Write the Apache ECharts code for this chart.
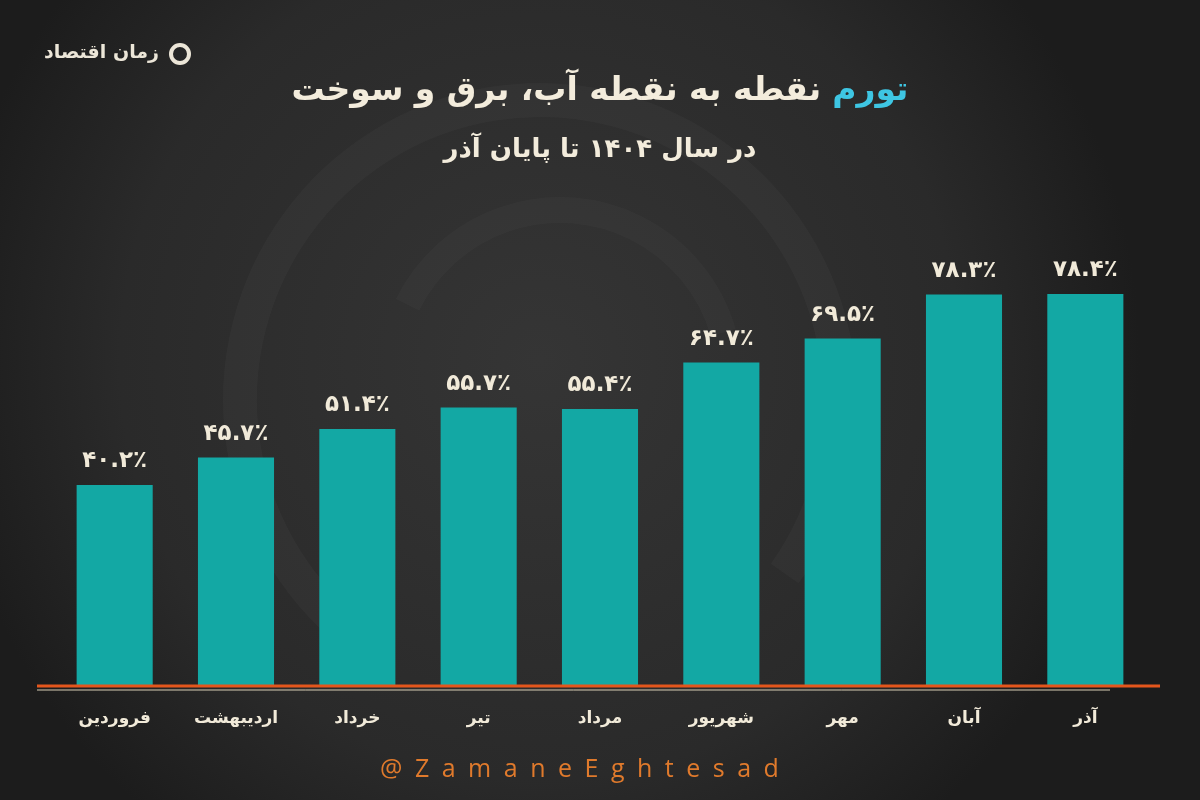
<!DOCTYPE html>
<html><head><meta charset="utf-8">
<script src="https://cdn.jsdelivr.net/npm/echarts@6/dist/echarts.min.js"></script>
<style>html,body{margin:0;padding:0;background:#2b2b2b}#c{width:1200px;height:800px}</style>
</head><body><div id="c"></div>
<script>
const categories = ['فروردین','اردیبهشت','خرداد','تیر','مرداد','شهریور','مهر','آبان','آذر'];
const values = [40.2, 45.7, 51.4, 55.7, 55.4, 64.7, 69.5, 78.3, 78.4];
const titleMain = 'نقطه به نقطه آب، برق و سوخت';
const titleAccent = 'تورم';
const subtitle = 'در سال ۱۴۰۴ تا پایان آذر';
const brand = 'زمان اقتصاد';
const footer = '@ZamaneEghtesad';

const faDigits = '۰۱۲۳۴۵۶۷۸۹';
function fa(v){ return v.toFixed(1).replace(/[0-9]/g, d => faDigits[+d]) + '٪'; }

const chart = echarts.init(document.getElementById('c'));
const FONT = '"DejaVu Sans", sans-serif';
chart.setOption({
  backgroundColor: {
    type: 'radial', x: 0.45, y: 0.45, r: 0.75,
    colorStops: [{offset:0, color:'#353535'},{offset:0.7, color:'#2a2a2a'},{offset:1, color:'#1c1c1c'}]
  },
  animation: false,
  grid: { left: 54, right: 54, top: 186, bottom: 114 },
  xAxis: {
    type: 'category', data: categories,
    axisLine: { show: false }, axisTick: { show: false },
    axisLabel: { color: '#f1ead9', fontFamily: FONT, fontWeight: 'bold', fontSize: 17, margin: 24 }
  },
  yAxis: { type: 'value', min: 0, max: 100, show: false, splitLine: { show: false } },
  series: [{
    type: 'bar', data: values, barWidth: '62.7%',
    itemStyle: { color: '#13a8a4' },
    label: {
      show: true, position: 'top', distance: 12,
      color: '#f1ead9', fontFamily: FONT, fontWeight: 'bold', fontSize: 23,
      formatter: p => fa(p.value)
    }
  }],
  graphic: [
    { type: 'arc', z: -1, shape: { cx: 540, cy: 400, r: 300, startAngle: 2.2, endAngle: 6.9 },
      style: { stroke: 'rgba(255,255,255,0.028)', lineWidth: 34, fill: null } },
    { type: 'arc', z: -1, shape: { cx: 560, cy: 380, r: 170, startAngle: 3.6, endAngle: 6.0 },
      style: { stroke: 'rgba(255,255,255,0.025)', lineWidth: 26, fill: null } },
    { type: 'line', z: 10, shape: { x1: 37, y1: 690, x2: 1110, y2: 690 },
      style: { stroke: '#d8cdb4', lineWidth: 1 } },
    { type: 'line', z: 11, shape: { x1: 37, y1: 686, x2: 1160, y2: 686 },
      style: { stroke: '#e4561c', lineWidth: 3 } },
    { type: 'text', left: 'center', top: 75, z: 20,
      style: {
        text: '{w|' + titleMain + '}{s|}{c|' + titleAccent + '}',
        rich: {
          w: { fill: '#f3ecdc', fontFamily: FONT, fontWeight: 'bold', fontSize: 33 },
          s: { width: 11 },
          c: { fill: '#3ec6e3', fontFamily: FONT, fontWeight: 'bold', fontSize: 33 }
        }
      } },
    { type: 'text', left: 'center', top: 137, z: 20,
      style: { text: subtitle, fill: '#f3ecdc', fontFamily: FONT, fontWeight: 'bold', fontSize: 26 } },
    { type: 'text', left: 44, top: 44, z: 20,
      style: { text: brand, fill: '#ece6d8', fontFamily: FONT, fontWeight: 'bold', fontSize: 19 } },
    { type: 'circle', z: 20, shape: { cx: 180, cy: 54, r: 9 },
      style: { stroke: '#ece6d8', lineWidth: 4, fill: null } },
    { type: 'text', left: 380, top: 757, z: 20,
      style: { text: footer.split('').join('\u2002'), fill: '#e07a2c', fontFamily: '"Open Sans", sans-serif', fontSize: 25 } }
  ]
});
</script></body></html>
